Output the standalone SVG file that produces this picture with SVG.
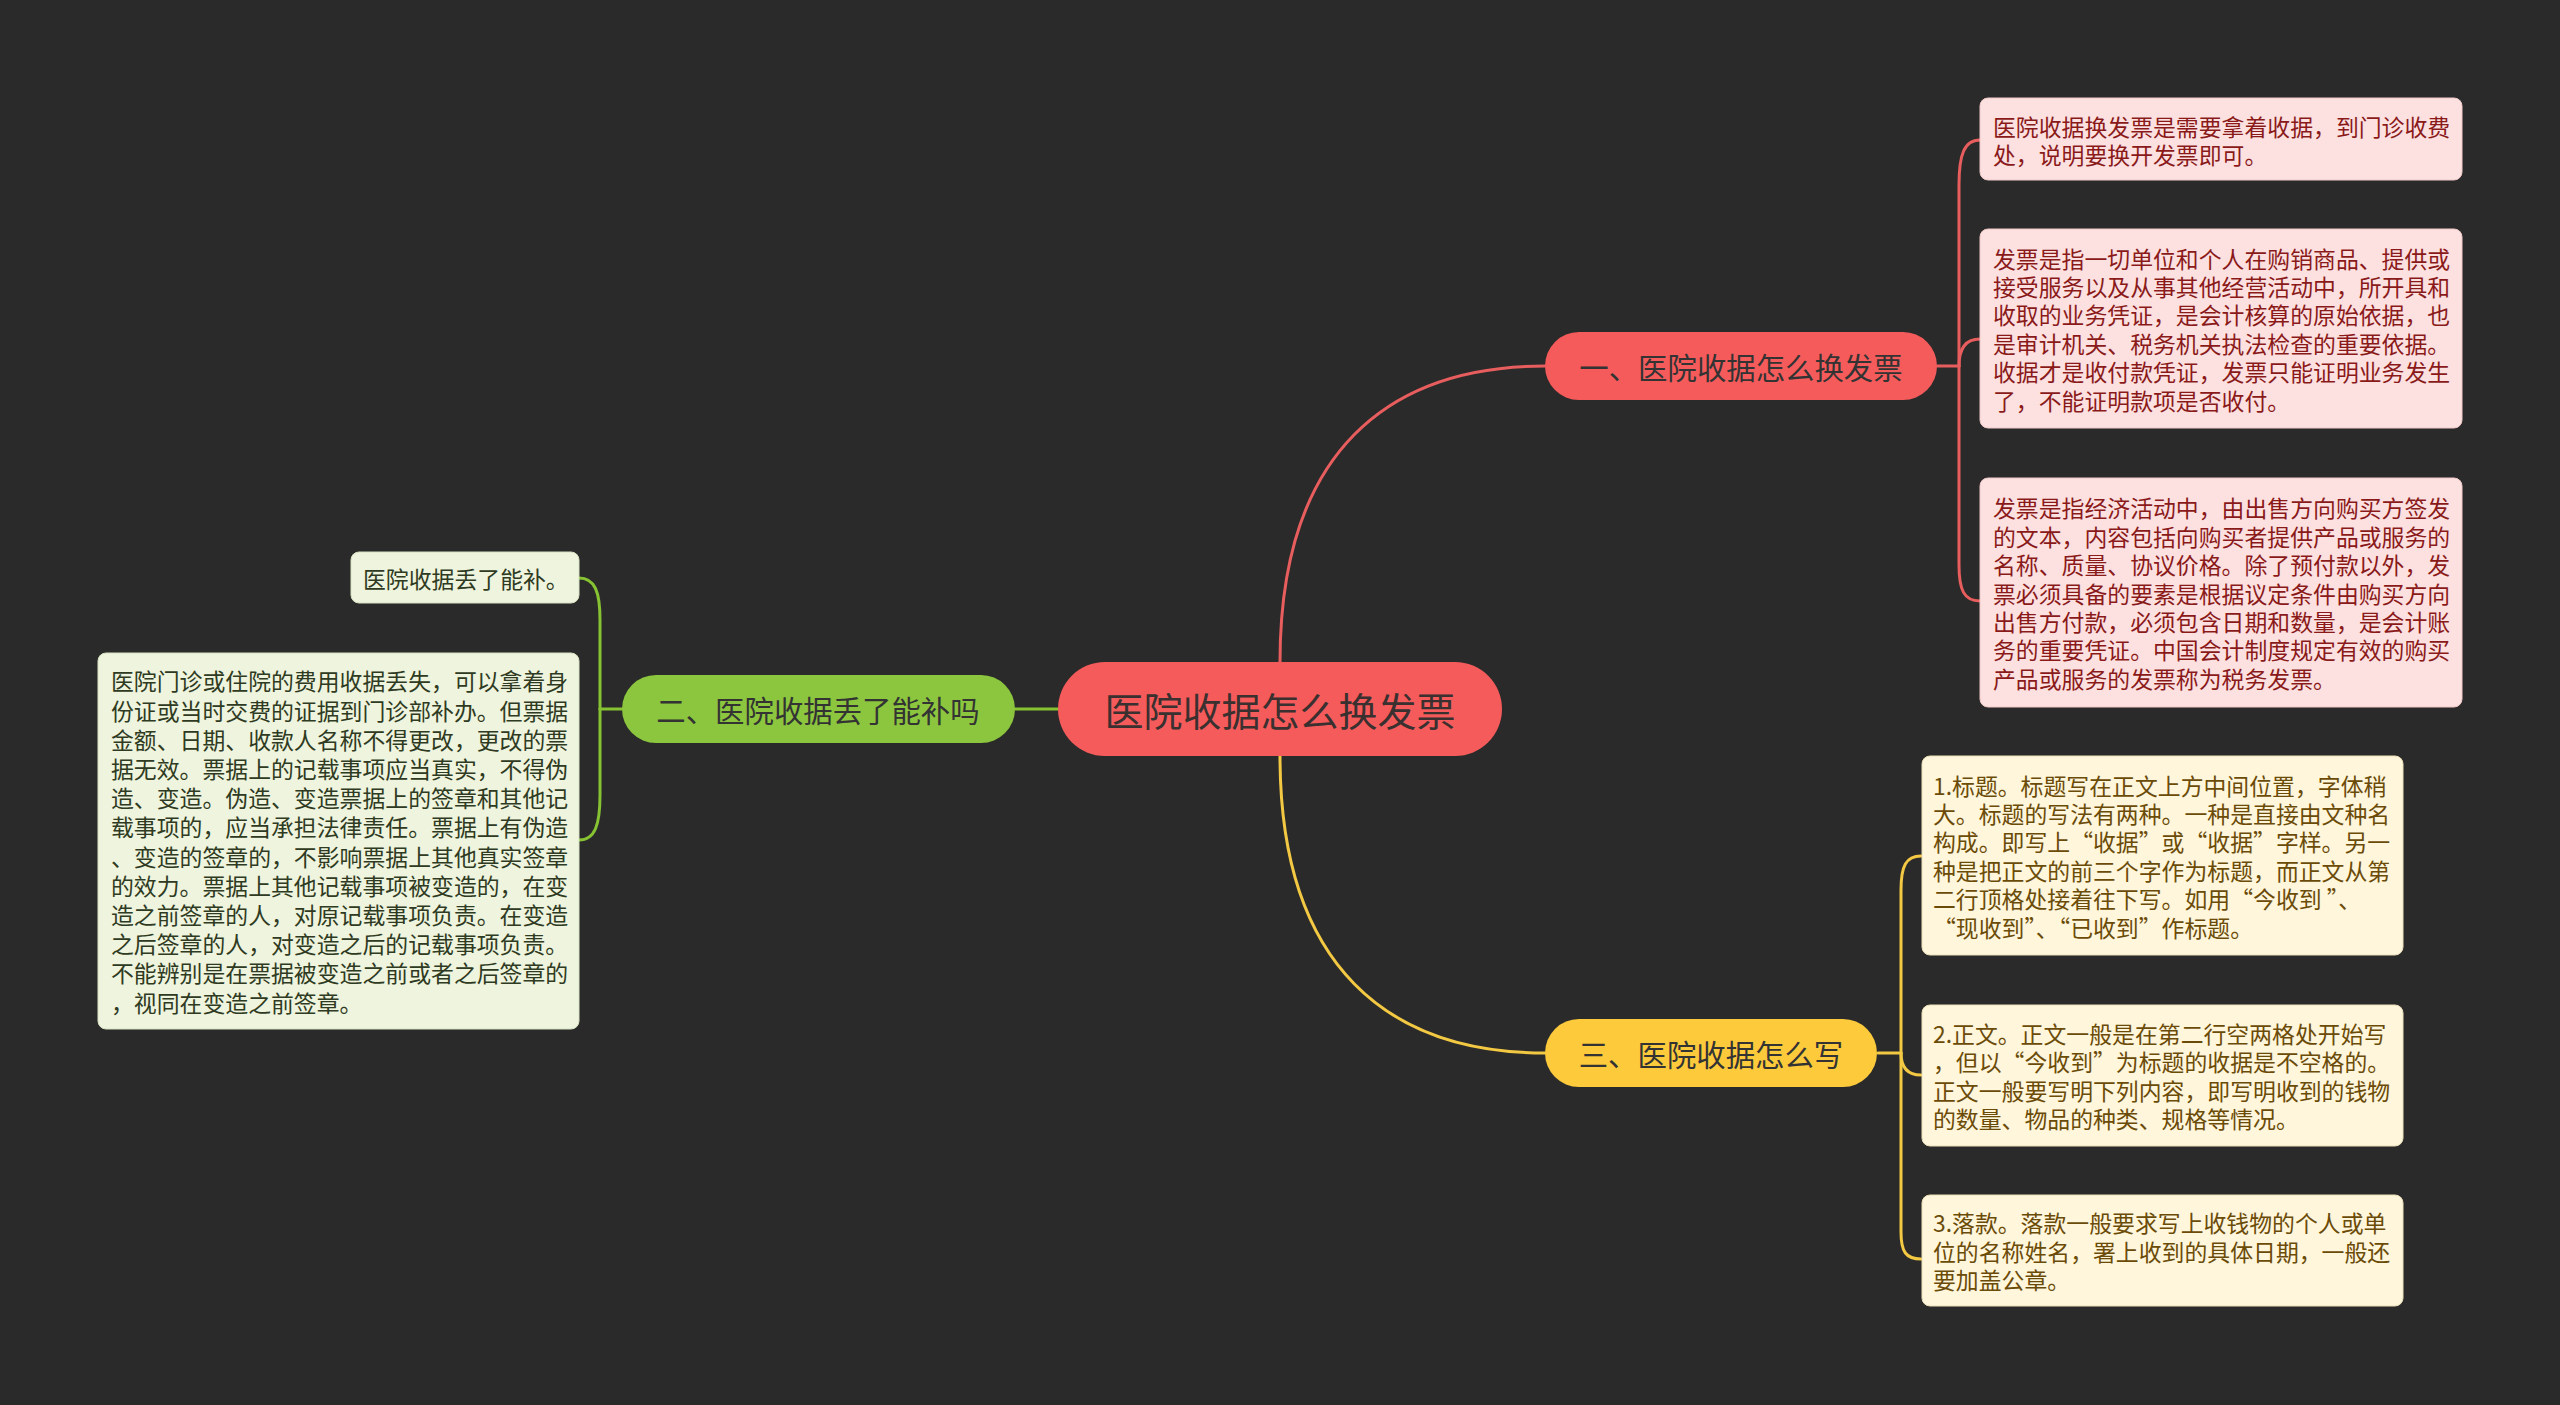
<svg xmlns="http://www.w3.org/2000/svg" width="2560" height="1405" viewBox="0 0 2560 1405">
<style>
text{font-family:"Noto Sans CJK SC","Noto Sans",sans-serif;dominant-baseline:central}
.c{fill:none;stroke-width:3;stroke-linecap:round}
.cr{stroke:#e85d5d}.cg{stroke:#86c232}.cy{stroke:#f3c843}
.root-t{font-size:39px;fill:#3a3030;text-anchor:middle}
.br-t{font-size:29.4px;fill:#333;text-anchor:middle}
.lf{font-size:22.86px}
.lr{fill:#fde1e1;stroke:#f0c8c8;stroke-width:1}
.lrt{fill:#8a1a1a}
.ly{fill:#fff6db;stroke:#eadfb8;stroke-width:1}
.lyt{fill:#6b4b08}
.lg{fill:#eef4dd;stroke:#d6e2c0;stroke-width:1}
.lgt{fill:#2f3a22}
</style>
<rect width="2560" height="1405" fill="#2a2a2a"/>
<g id="connectors">
<path class="c cr" d="M1280 662 C1280 450 1390 366 1545 366"/>
<path class="c cy" d="M1280 756 C1280 968 1390 1053 1545 1053"/>
<path class="c cg" d="M1058 709 L1015 709"/>
<path class="c cr" d="M1937 366 L1959 366"/>
<path class="c cr" d="M1959 366 L1959 185 C1959 155 1964 140 1980 140"/>
<path class="c cr" d="M1959 366 Q1959 339 1980 339"/>
<path class="c cr" d="M1959 366 L1959 565 C1959 590 1964 601 1980 601"/>
<path class="c cy" d="M1878 1053 L1901 1053"/>
<path class="c cy" d="M1901 1053 L1901 890 C1901 866 1906 856 1921 856"/>
<path class="c cy" d="M1901 1053 Q1901 1075 1921 1075"/>
<path class="c cy" d="M1901 1053 L1901 1232 C1901 1252 1906 1259 1921 1259"/>
<path class="c cg" d="M622 709 L600 709"/>
<path class="c cg" d="M600 709 L600 620 C600 592 595 578 579 578"/>
<path class="c cg" d="M600 709 L600 795 C600 825 595 840 579 840"/>
</g>
<g id="root">
<rect x="1058" y="662" width="444" height="94" rx="47" fill="#f65b5b"/>
<text class="root-t" x="1280" y="709">医院收据怎么换发票</text>
</g>
<g id="branch1">
<rect x="1545" y="332" width="392" height="68" rx="34" fill="#f65b5b"/>
<text class="br-t" x="1741" y="366">一、医院收据怎么换发票</text>
</g>
<g id="branch2">
<rect x="622" y="675" width="393" height="68" rx="34" fill="#8cc63e"/>
<text class="br-t" x="818" y="709">二、医院收据丢了能补吗</text>
</g>
<g id="branch3">
<rect x="1545" y="1019" width="332" height="68" rx="34" fill="#fdca3c"/>
<text class="br-t" x="1711" y="1053">三、医院收据怎么写</text>
</g>
<g id="leaf1a">
<rect class="lr" x="1980" y="98" width="482" height="82" rx="8"/>
<text class="lf lrt" x="1993"><tspan x="1993" y="126">医院收据换发票是需要拿着收据，到门诊收费</tspan><tspan x="1993" y="154">处，说明要换开发票即可。</tspan></text>
</g>
<g id="leaf1b">
<rect class="lr" x="1980" y="229" width="482" height="199" rx="8"/>
<text class="lf lrt"><tspan x="1993" y="257.5">发票是指一切单位和个人在购销商品、提供或</tspan><tspan x="1993" y="285.9">接受服务以及从事其他经营活动中，所开具和</tspan><tspan x="1993" y="314.3">收取的业务凭证，是会计核算的原始依据，也</tspan><tspan x="1993" y="342.7">是审计机关、税务机关执法检查的重要依据。</tspan><tspan x="1993" y="371.1">收据才是收付款凭证，发票只能证明业务发生</tspan><tspan x="1993" y="399.5">了，不能证明款项是否收付。</tspan></text>
</g>
<g id="leaf1c">
<rect class="lr" x="1980" y="478" width="482" height="229" rx="8"/>
<text class="lf lrt"><tspan x="1993" y="507.3">发票是指经济活动中，由出售方向购买方签发</tspan><tspan x="1993" y="535.7">的文本，内容包括向购买者提供产品或服务的</tspan><tspan x="1993" y="564.1">名称、质量、协议价格。除了预付款以外，发</tspan><tspan x="1993" y="592.5">票必须具备的要素是根据议定条件由购买方向</tspan><tspan x="1993" y="620.9">出售方付款，必须包含日期和数量，是会计账</tspan><tspan x="1993" y="649.3">务的重要凭证。中国会计制度规定有效的购买</tspan><tspan x="1993" y="677.7">产品或服务的发票称为税务发票。</tspan></text>
</g>
<g id="leaf2a">
<rect class="lg" x="351" y="552" width="228" height="51" rx="8"/>
<text class="lf lgt" x="363" y="578">医院收据丢了能补。</text>
</g>
<g id="leaf2b">
<rect class="lg" x="98" y="653" width="481" height="376" rx="8"/>
<text class="lf lgt"><tspan x="111" y="680.4">医院门诊或住院的费用收据丢失，可以拿着身</tspan><tspan x="111" y="709.6">份证或当时交费的证据到门诊部补办。但票据</tspan><tspan x="111" y="738.8">金额、日期、收款人名称不得更改，更改的票</tspan><tspan x="111" y="768">据无效。票据上的记载事项应当真实，不得伪</tspan><tspan x="111" y="797.2">造、变造。伪造、变造票据上的签章和其他记</tspan><tspan x="111" y="826.4">载事项的，应当承担法律责任。票据上有伪造</tspan><tspan x="111" y="855.6">、变造的签章的，不影响票据上其他真实签章</tspan><tspan x="111" y="884.8">的效力。票据上其他记载事项被变造的，在变</tspan><tspan x="111" y="914">造之前签章的人，对原记载事项负责。在变造</tspan><tspan x="111" y="943.2">之后签章的人，对变造之后的记载事项负责。</tspan><tspan x="111" y="972.4">不能辨别是在票据被变造之前或者之后签章的</tspan><tspan x="111" y="1001.6">，视同在变造之前签章。</tspan></text>
</g>
<g id="leaf3a">
<rect class="ly" x="1922" y="756" width="481" height="199" rx="8"/>
<text class="lf lyt"><tspan x="1933" y="784.5">1.标题。标题写在正文上方中间位置，字体稍</tspan><tspan x="1933" y="812.9">大。标题的写法有两种。一种是直接由文种名</tspan><tspan x="1933" y="841.3">构成。即写上“收据”或“收据”字样。另一</tspan><tspan x="1933" y="869.7">种是把正文的前三个字作为标题，而正文从第</tspan><tspan x="1933" y="898.1">二行顶格处接着往下写。如用“今收到 ”、</tspan><tspan x="1933" y="926.5">“现收到”、“已收到”作标题。</tspan></text>
</g>
<g id="leaf3b">
<rect class="ly" x="1922" y="1005" width="481" height="141" rx="8"/>
<text class="lf lyt"><tspan x="1933" y="1032.9">2.正文。正文一般是在第二行空两格处开始写</tspan><tspan x="1933" y="1061.3">，但以“今收到”为标题的收据是不空格的。</tspan><tspan x="1933" y="1089.7">正文一般要写明下列内容，即写明收到的钱物</tspan><tspan x="1933" y="1118.1">的数量、物品的种类、规格等情况。</tspan></text>
</g>
<g id="leaf3c">
<rect class="ly" x="1922" y="1195" width="481" height="111" rx="8"/>
<text class="lf lyt"><tspan x="1933" y="1222.1">3.落款。落款一般要求写上收钱物的个人或单</tspan><tspan x="1933" y="1250.5">位的名称姓名，署上收到的具体日期，一般还</tspan><tspan x="1933" y="1278.9">要加盖公章。</tspan></text>
</g>
</svg>
